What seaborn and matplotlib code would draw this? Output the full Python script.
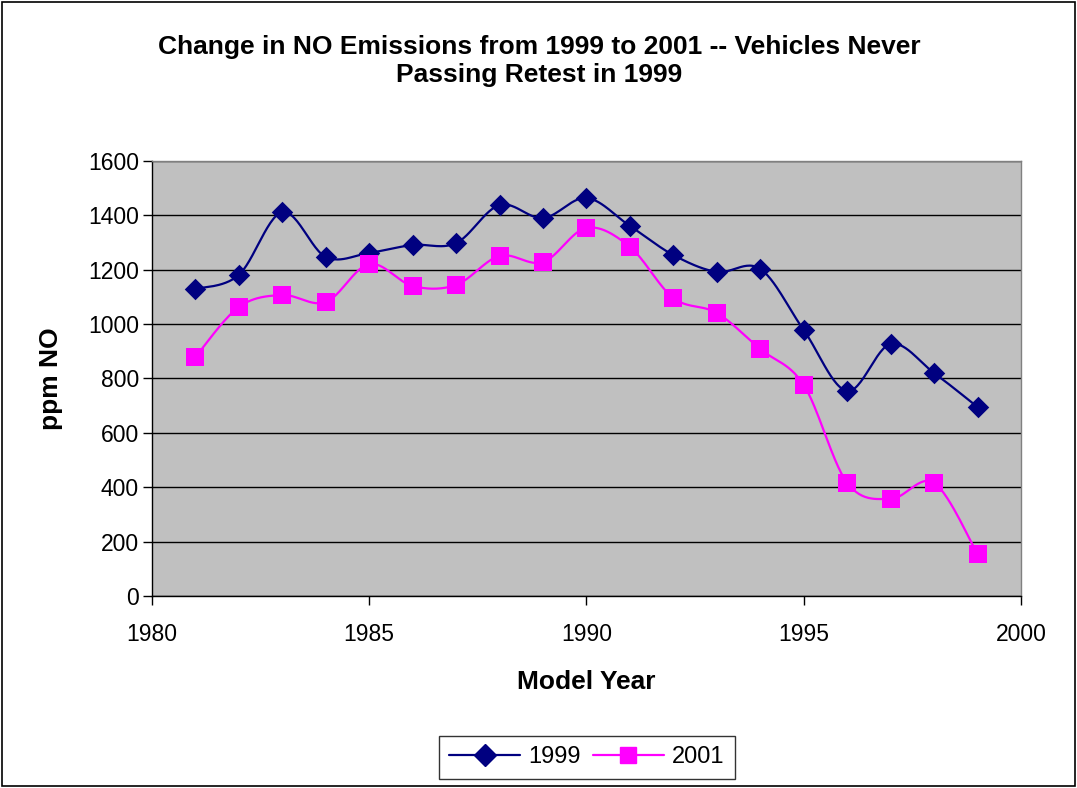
import numpy as np
import pandas as pd
import matplotlib
matplotlib.use("Agg")
import matplotlib.pyplot as plt
from matplotlib.lines import Line2D
from matplotlib.patches import Rectangle
import seaborn as sns

years = [1981, 1982, 1983, 1984, 1985, 1986, 1987, 1988, 1989, 1990,
         1991, 1992, 1993, 1994, 1995, 1996, 1997, 1998, 1999]
no_1999 = [1129, 1181, 1412, 1247, 1262, 1291, 1298, 1438, 1390, 1464,
           1361, 1254, 1192, 1203, 978, 754, 927, 820, 695]
no_2001 = [879, 1063, 1107, 1081, 1221, 1140, 1144, 1251, 1228, 1354,
           1284, 1096, 1041, 908, 776, 416, 357, 416, 154]
series_names = ["1999", "2001"]
colors = ["#000080", "#FF00FF"]
markers = ["D", "s"]

title = "Change in NO Emissions from 1999 to 2001 -- Vehicles Never\nPassing Retest in 1999"
xlabel = "Model Year"
ylabel = "ppm NO"


def smooth(x, y, n=30):
    """Excel-like smoothed line (Catmull-Rom style Bezier)."""
    x = np.asarray(x, float)
    y = np.asarray(y, float)
    px = np.concatenate([[x[0]], x, [x[-1]]])
    py = np.concatenate([[y[0]], y, [y[-1]]])
    xs, ys = [], []
    t = np.linspace(0, 1, n)
    for i in range(1, len(px) - 2):
        p0 = np.array([px[i], py[i]])
        p3 = np.array([px[i + 1], py[i + 1]])
        p1 = p0 + (np.array([px[i + 1], py[i + 1]]) - np.array([px[i - 1], py[i - 1]])) / 6
        p2 = p3 - (np.array([px[i + 2], py[i + 2]]) - np.array([px[i], py[i]])) / 6
        b = ((1 - t) ** 3)[:, None] * p0 + (3 * (1 - t) ** 2 * t)[:, None] * p1 \
            + (3 * (1 - t) * t ** 2)[:, None] * p2 + (t ** 3)[:, None] * p3
        xs.extend(b[:, 0])
        ys.extend(b[:, 1])
    return np.array(xs), np.array(ys)


sns.set_theme(style="white")
plt.rcParams["font.family"] = ["Liberation Sans", "DejaVu Sans"]
plt.rcParams["text.color"] = "black"
plt.rcParams["axes.labelcolor"] = "black"
plt.rcParams["xtick.color"] = "black"
plt.rcParams["ytick.color"] = "black"

fig = plt.figure(figsize=(10.77, 7.88), dpi=100)
fig.patch.set_facecolor("white")
fig.add_artist(Rectangle((0.0015, 0.002), 0.997, 0.996, transform=fig.transFigure,
                         fill=False, edgecolor="black", linewidth=1.2))
ax = fig.add_axes([0.1411, 0.2437, 0.8069, 0.552])
ax.set_facecolor("#C0C0C0")

handles = []
for vals, name, c, m in zip([no_1999, no_2001], series_names, colors, markers):
    sx, sy = smooth(years, vals)
    df = pd.DataFrame({"x": sx, "y": sy})
    sns.lineplot(data=df, x="x", y="y", ax=ax, color=c, linewidth=1.6, sort=False,
                 estimator=None, zorder=3)
    pts = pd.DataFrame({"x": years, "y": vals})
    ms = 120 if m == "D" else 160
    sns.scatterplot(data=pts, x="x", y="y", ax=ax, color=c, marker=m, s=ms,
                    edgecolor=c, linewidth=0, zorder=4)
    handles.append(Line2D([0], [0], color=c, marker=m, markersize=11 if m == "D" else 12,
                          linewidth=1.6, label=name))

ax.set_xlim(1980, 2000)
ax.set_ylim(0, 1600)
ax.set_xticks(range(1980, 2001, 5))
ax.set_yticks(range(0, 1601, 200))
ax.yaxis.grid(True, color="#000000", linewidth=1.0)
ax.xaxis.grid(False)
ax.set_axisbelow(True)
for s in ["top", "right"]:
    ax.spines[s].set_color("#808080")
    ax.spines[s].set_linewidth(1.0)
for s in ["left", "bottom"]:
    ax.spines[s].set_color("black")
    ax.spines[s].set_linewidth(1.0)
ax.tick_params(axis="both", which="major", direction="out", length=6.5, width=1,
               color="black", labelcolor="black", labelsize=16.5, bottom=True, left=True)
ax.tick_params(axis="x", pad=13)
ax.tick_params(axis="y", pad=3)
ax.set_xlabel(xlabel, fontsize=19, fontweight="bold", labelpad=17, color="black")
ax.set_ylabel(ylabel, fontsize=19, fontweight="bold", labelpad=18, color="black")

fig.text(0.501, 0.9226, title, ha="center", va="center", fontsize=19,
         fontweight="bold", linespacing=1.2, color="black")

leg = fig.legend(handles=handles, loc="center", bbox_to_anchor=(0.545, 0.039),
                 ncol=2, fontsize=17, frameon=True, fancybox=False, handlelength=3.0,
                 columnspacing=0.5, handletextpad=0.35, borderpad=0.45)
leg.get_frame().set_edgecolor("black")
leg.get_frame().set_linewidth(1.0)
for txt in leg.get_texts():
    txt.set_color("black")

fig.savefig("out.png", dpi=100)
